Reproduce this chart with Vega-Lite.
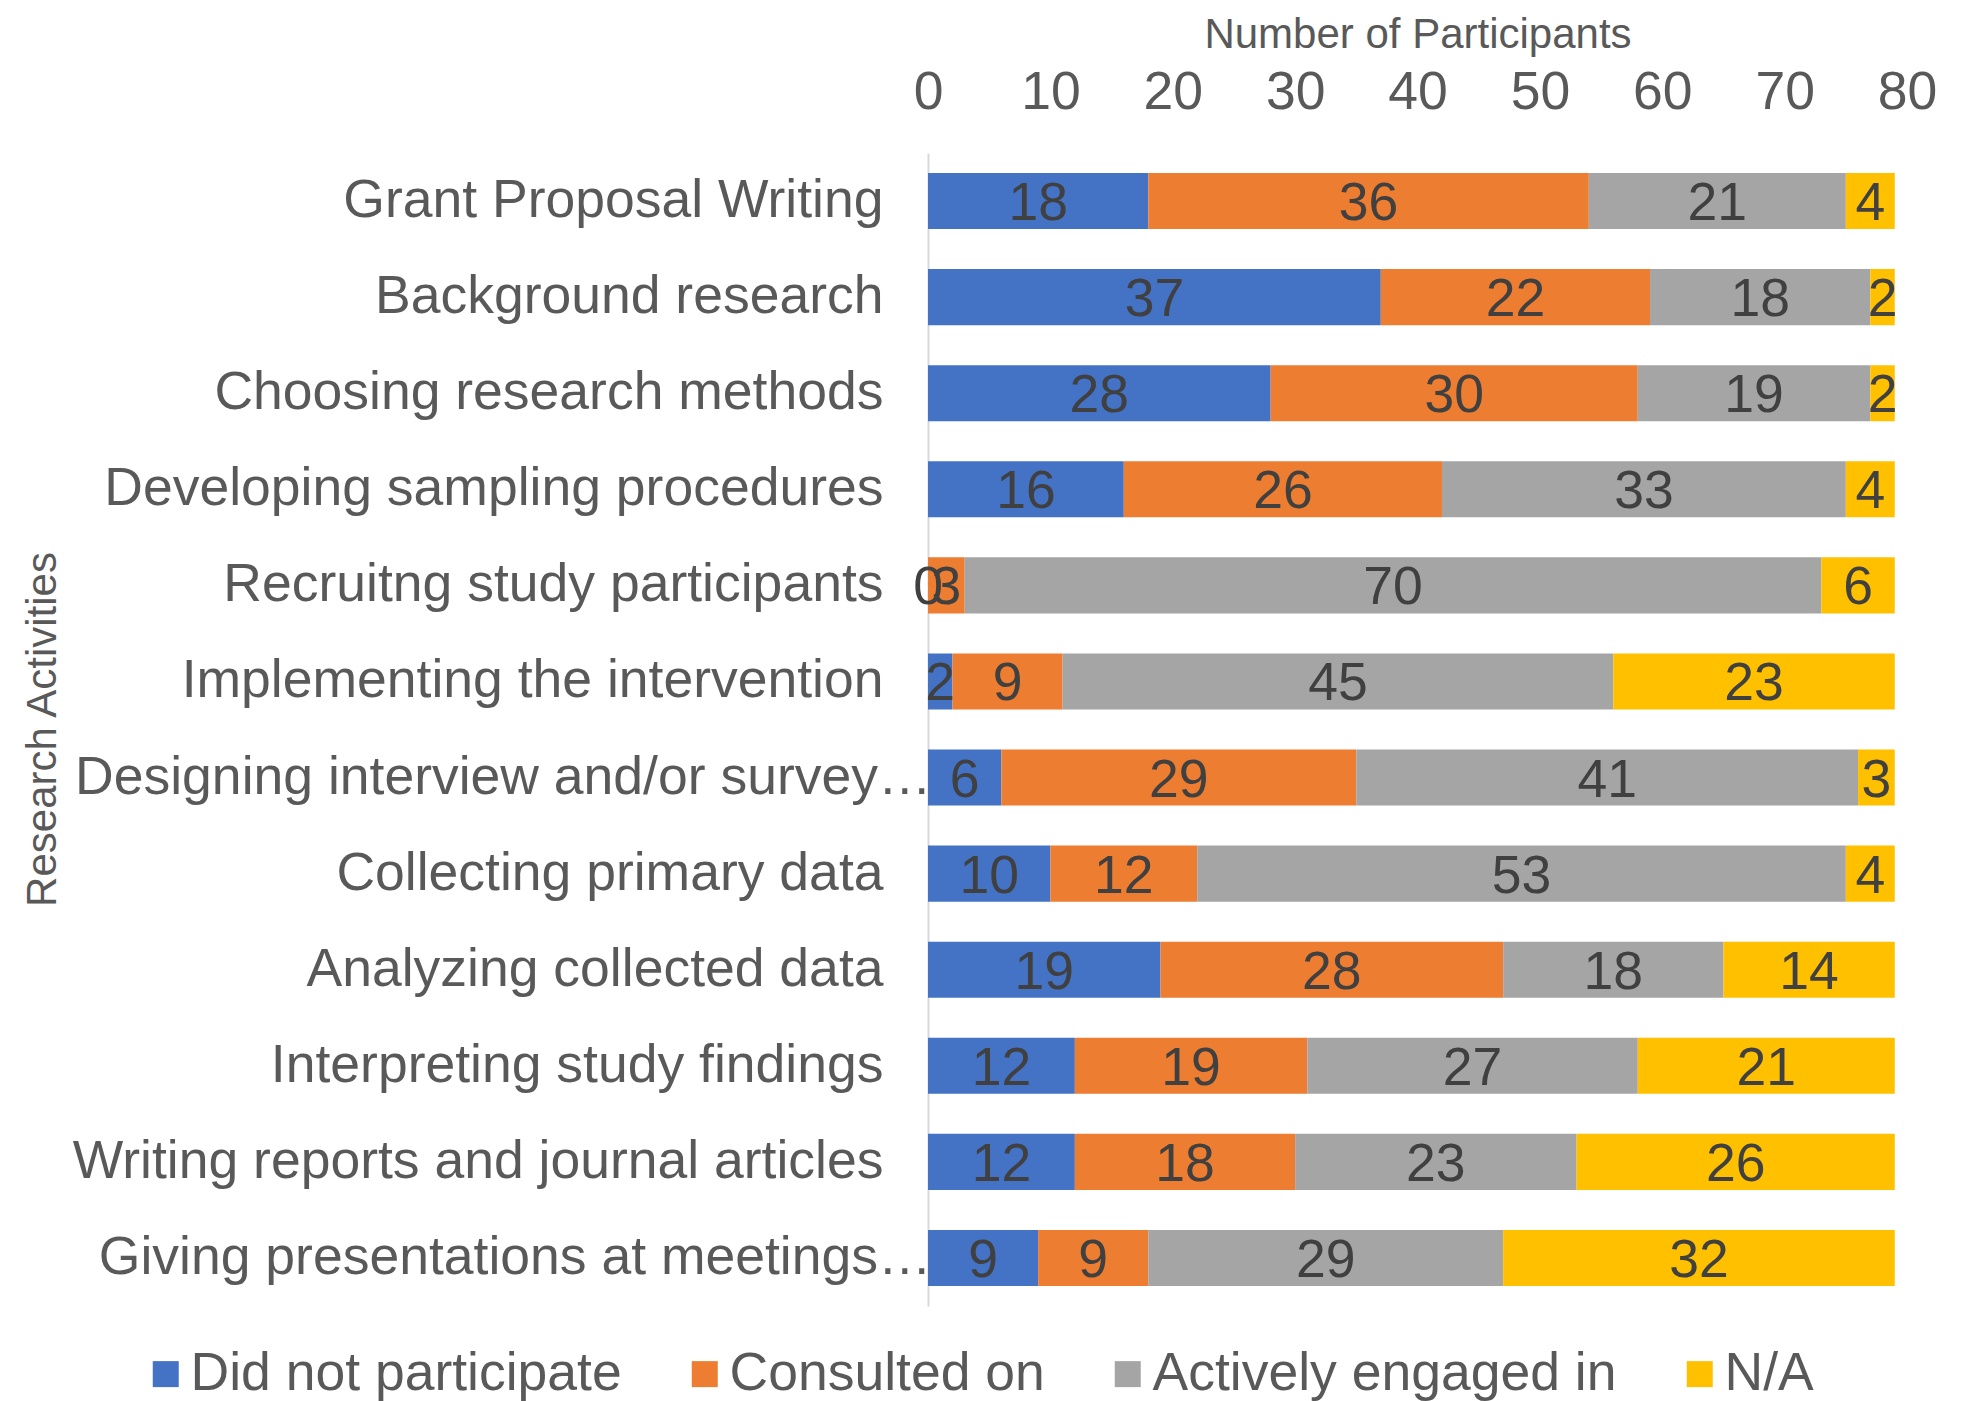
{
  "$schema": "https://vega.github.io/schema/vega-lite/v6.json",
  "autosize": {"type": "none"},
  "padding": {"left": 928, "top": 153, "right": 71, "bottom": 95},
  "width": 979,
  "height": 1153,
  "background": "white",
  "config": {
    "view": {"stroke": null},
    "font": "Liberation Sans",
    "text": {"font": "Liberation Sans"}
  },
  "data": {"values": [
    {"activity": "Grant Proposal Writing", "status": "Did not participate", "k": 1, "n": 18},
    {"activity": "Grant Proposal Writing", "status": "Consulted on", "k": 2, "n": 36},
    {"activity": "Grant Proposal Writing", "status": "Actively engaged in", "k": 3, "n": 21},
    {"activity": "Grant Proposal Writing", "status": "N/A", "k": 4, "n": 4},
    {"activity": "Background research", "status": "Did not participate", "k": 1, "n": 37},
    {"activity": "Background research", "status": "Consulted on", "k": 2, "n": 22},
    {"activity": "Background research", "status": "Actively engaged in", "k": 3, "n": 18},
    {"activity": "Background research", "status": "N/A", "k": 4, "n": 2},
    {"activity": "Choosing research methods", "status": "Did not participate", "k": 1, "n": 28},
    {"activity": "Choosing research methods", "status": "Consulted on", "k": 2, "n": 30},
    {"activity": "Choosing research methods", "status": "Actively engaged in", "k": 3, "n": 19},
    {"activity": "Choosing research methods", "status": "N/A", "k": 4, "n": 2},
    {"activity": "Developing sampling procedures", "status": "Did not participate", "k": 1, "n": 16},
    {"activity": "Developing sampling procedures", "status": "Consulted on", "k": 2, "n": 26},
    {"activity": "Developing sampling procedures", "status": "Actively engaged in", "k": 3, "n": 33},
    {"activity": "Developing sampling procedures", "status": "N/A", "k": 4, "n": 4},
    {"activity": "Recruitng study participants", "status": "Did not participate", "k": 1, "n": 0},
    {"activity": "Recruitng study participants", "status": "Consulted on", "k": 2, "n": 3},
    {"activity": "Recruitng study participants", "status": "Actively engaged in", "k": 3, "n": 70},
    {"activity": "Recruitng study participants", "status": "N/A", "k": 4, "n": 6},
    {"activity": "Implementing the intervention", "status": "Did not participate", "k": 1, "n": 2},
    {"activity": "Implementing the intervention", "status": "Consulted on", "k": 2, "n": 9},
    {"activity": "Implementing the intervention", "status": "Actively engaged in", "k": 3, "n": 45},
    {"activity": "Implementing the intervention", "status": "N/A", "k": 4, "n": 23},
    {"activity": "Designing interview and/or survey…", "status": "Did not participate", "k": 1, "n": 6},
    {"activity": "Designing interview and/or survey…", "status": "Consulted on", "k": 2, "n": 29},
    {"activity": "Designing interview and/or survey…", "status": "Actively engaged in", "k": 3, "n": 41},
    {"activity": "Designing interview and/or survey…", "status": "N/A", "k": 4, "n": 3},
    {"activity": "Collecting primary data", "status": "Did not participate", "k": 1, "n": 10},
    {"activity": "Collecting primary data", "status": "Consulted on", "k": 2, "n": 12},
    {"activity": "Collecting primary data", "status": "Actively engaged in", "k": 3, "n": 53},
    {"activity": "Collecting primary data", "status": "N/A", "k": 4, "n": 4},
    {"activity": "Analyzing collected data", "status": "Did not participate", "k": 1, "n": 19},
    {"activity": "Analyzing collected data", "status": "Consulted on", "k": 2, "n": 28},
    {"activity": "Analyzing collected data", "status": "Actively engaged in", "k": 3, "n": 18},
    {"activity": "Analyzing collected data", "status": "N/A", "k": 4, "n": 14},
    {"activity": "Interpreting study findings", "status": "Did not participate", "k": 1, "n": 12},
    {"activity": "Interpreting study findings", "status": "Consulted on", "k": 2, "n": 19},
    {"activity": "Interpreting study findings", "status": "Actively engaged in", "k": 3, "n": 27},
    {"activity": "Interpreting study findings", "status": "N/A", "k": 4, "n": 21},
    {"activity": "Writing reports and journal articles", "status": "Did not participate", "k": 1, "n": 12},
    {"activity": "Writing reports and journal articles", "status": "Consulted on", "k": 2, "n": 18},
    {"activity": "Writing reports and journal articles", "status": "Actively engaged in", "k": 3, "n": 23},
    {"activity": "Writing reports and journal articles", "status": "N/A", "k": 4, "n": 26},
    {"activity": "Giving presentations at meetings…", "status": "Did not participate", "k": 1, "n": 9},
    {"activity": "Giving presentations at meetings…", "status": "Consulted on", "k": 2, "n": 9},
    {"activity": "Giving presentations at meetings…", "status": "Actively engaged in", "k": 3, "n": 29},
    {"activity": "Giving presentations at meetings…", "status": "N/A", "k": 4, "n": 32}
  ]},
  "encoding": {
    "y": {
      "field": "activity", "type": "nominal", "sort": null,
      "scale": {"paddingInner": 0.417, "paddingOuter": 0.2085},
      "axis": {
        "title": "Research Activities",
        "titleFont": "Liberation Sans", "titleFontSize": 42, "titleFontWeight": "normal", "titleColor": "#595959",
        "titleX": -886, "titleY": 576, "titleAngle": -90, "titleAlign": "center", "titleBaseline": "middle",
        "labelFont": "Liberation Sans", "labelFontSize": 53.5, "labelColor": "#595959",
        "labelPadding": {"condition": {"test": "indexof(datum.value, '…') >= 0", "value": -3}, "value": 45},
        "labelLimit": 1000, "labelBaseline": "middle",
        "ticks": false, "tickSize": 0,
        "domain": true, "domainColor": "#d9d9d9", "domainWidth": 2,
        "grid": false
      }
    },
    "x": {
      "field": "n", "type": "quantitative", "stack": "zero",
      "scale": {"domain": [0, 80], "nice": false},
      "axis": {
        "orient": "top",
        "title": "Number  of Participants",
        "titleFont": "Liberation Sans", "titleFontSize": 42, "titleFontWeight": "normal", "titleColor": "#595959",
        "titleY": -106, "titleBaseline": "alphabetic",
        "values": [0, 10, 20, 30, 40, 50, 60, 70, 80],
        "labelFont": "Liberation Sans", "labelFontSize": 53.5, "labelColor": "#595959",
        "labelPadding": 45, "labelBaseline": "alphabetic", "labelFlush": false, "labelOverlap": false,
        "ticks": false, "tickSize": 0, "domain": false, "grid": false
      }
    },
    "order": {"field": "k", "type": "quantitative"}
  },
  "layer": [
    {
      "mark": {"type": "bar"},
      "encoding": {
        "color": {
          "field": "status", "type": "nominal",
          "sort": ["Did not participate", "Consulted on", "Actively engaged in", "N/A"],
          "scale": {
            "domain": ["Did not participate", "Consulted on", "Actively engaged in", "N/A"],
            "range": ["#4472C4", "#ED7D31", "#A5A5A5", "#FFC000"]
          },
          "legend": {
            "title": null, "orient": "none", "direction": "horizontal",
            "legendX": -789, "legendY": 1194,
            "symbolType": "square", "symbolSize": 676, "symbolStrokeWidth": 0,
            "labelFont": "Liberation Sans", "labelFontSize": 53.5, "labelColor": "#595959",
            "labelOffset": -2, "columnPadding": 56, "labelLimit": 1000, "padding": 0
          }
        }
      }
    },
    {
      "mark": {"type": "text", "font": "Liberation Sans", "fontSize": 53.5, "color": "#404040", "baseline": "middle", "align": "center", "dy": 3},
      "encoding": {
        "x": {"field": "n", "type": "quantitative", "stack": "zero", "bandPosition": 0.5},
        "text": {"field": "n", "type": "quantitative"}
      }
    }
  ]
}
